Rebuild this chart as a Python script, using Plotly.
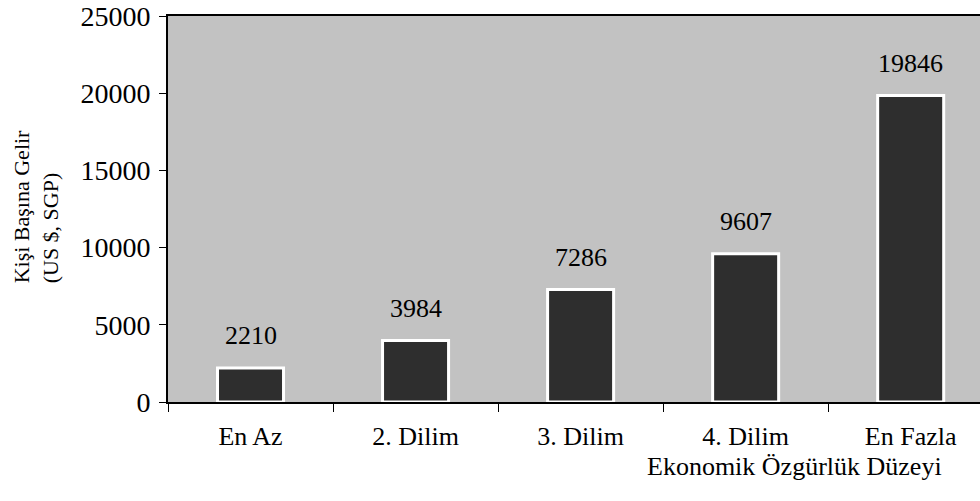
import plotly.graph_objects as go

categories = ["En Az", "2. Dilim", "3. Dilim", "4. Dilim", "En Fazla"]
values = [2210, 3984, 7286, 9607, 19846]
y_ticks = [0, 5000, 10000, 15000, 20000, 25000]

FONT = "Liberation Serif, Times New Roman, serif"

fig = go.Figure()
fig.add_trace(go.Bar(
    x=categories, y=values, width=0.4,
    marker=dict(color="#2e2e2e", line=dict(color="white", width=3)),
    hoverinfo="skip",
))

for c, v in zip(categories, values):
    fig.add_annotation(x=c, y=v, text=str(v), showarrow=False,
                       yanchor="middle", yshift=32,
                       font=dict(family=FONT, size=26, color="black"))

fig.add_annotation(xref="paper", yref="paper", x=0.956, y=-0.167,
                   xanchor="right", yanchor="middle", showarrow=False,
                   text="Ekonomik Özgürlük Düzeyi",
                   font=dict(family=FONT, size=26, color="black"))

fig.add_annotation(xref="paper", yref="paper", x=-0.163, y=0.506,
                   xanchor="center", yanchor="middle", showarrow=False,
                   textangle=-90, align="left",
                   text="Kişi Başına Gelir<br>(US $, SGP)",
                   font=dict(family=FONT, size=22, color="black"))

fig.update_layout(
    width=980, height=501,
    margin=dict(l=168, r=0, t=16, b=99, autoexpand=False),
    paper_bgcolor="white", plot_bgcolor="#c2c2c2",
    showlegend=False,
    font=dict(family=FONT, color="black"),
)
fig.update_xaxes(
    range=[-0.5, 4.42], showline=True, linecolor="black", linewidth=2,
    mirror=True, ticks="outside", tickson="boundaries", ticklen=8,
    tickcolor="black", tickfont=dict(family=FONT, size=26, color="black"),
    ticklabelstandoff=10, showgrid=False, zeroline=False, automargin=False,
)
fig.update_yaxes(
    range=[0, 25000], tickvals=y_ticks, tickformat="d", showline=True,
    linecolor="black", linewidth=2, ticks="outside", ticklen=7,
    tickcolor="black", tickfont=dict(family=FONT, size=28, color="black"),
    ticklabelstandoff=3, ticklabeloverflow="allow",
    showgrid=False, zeroline=False, automargin=False,
)

fig.write_html(
    "out.html",
    config={"displayModeBar": False},
    post_script="document.body.style.margin='0';document.body.style.overflow='hidden';",
)
